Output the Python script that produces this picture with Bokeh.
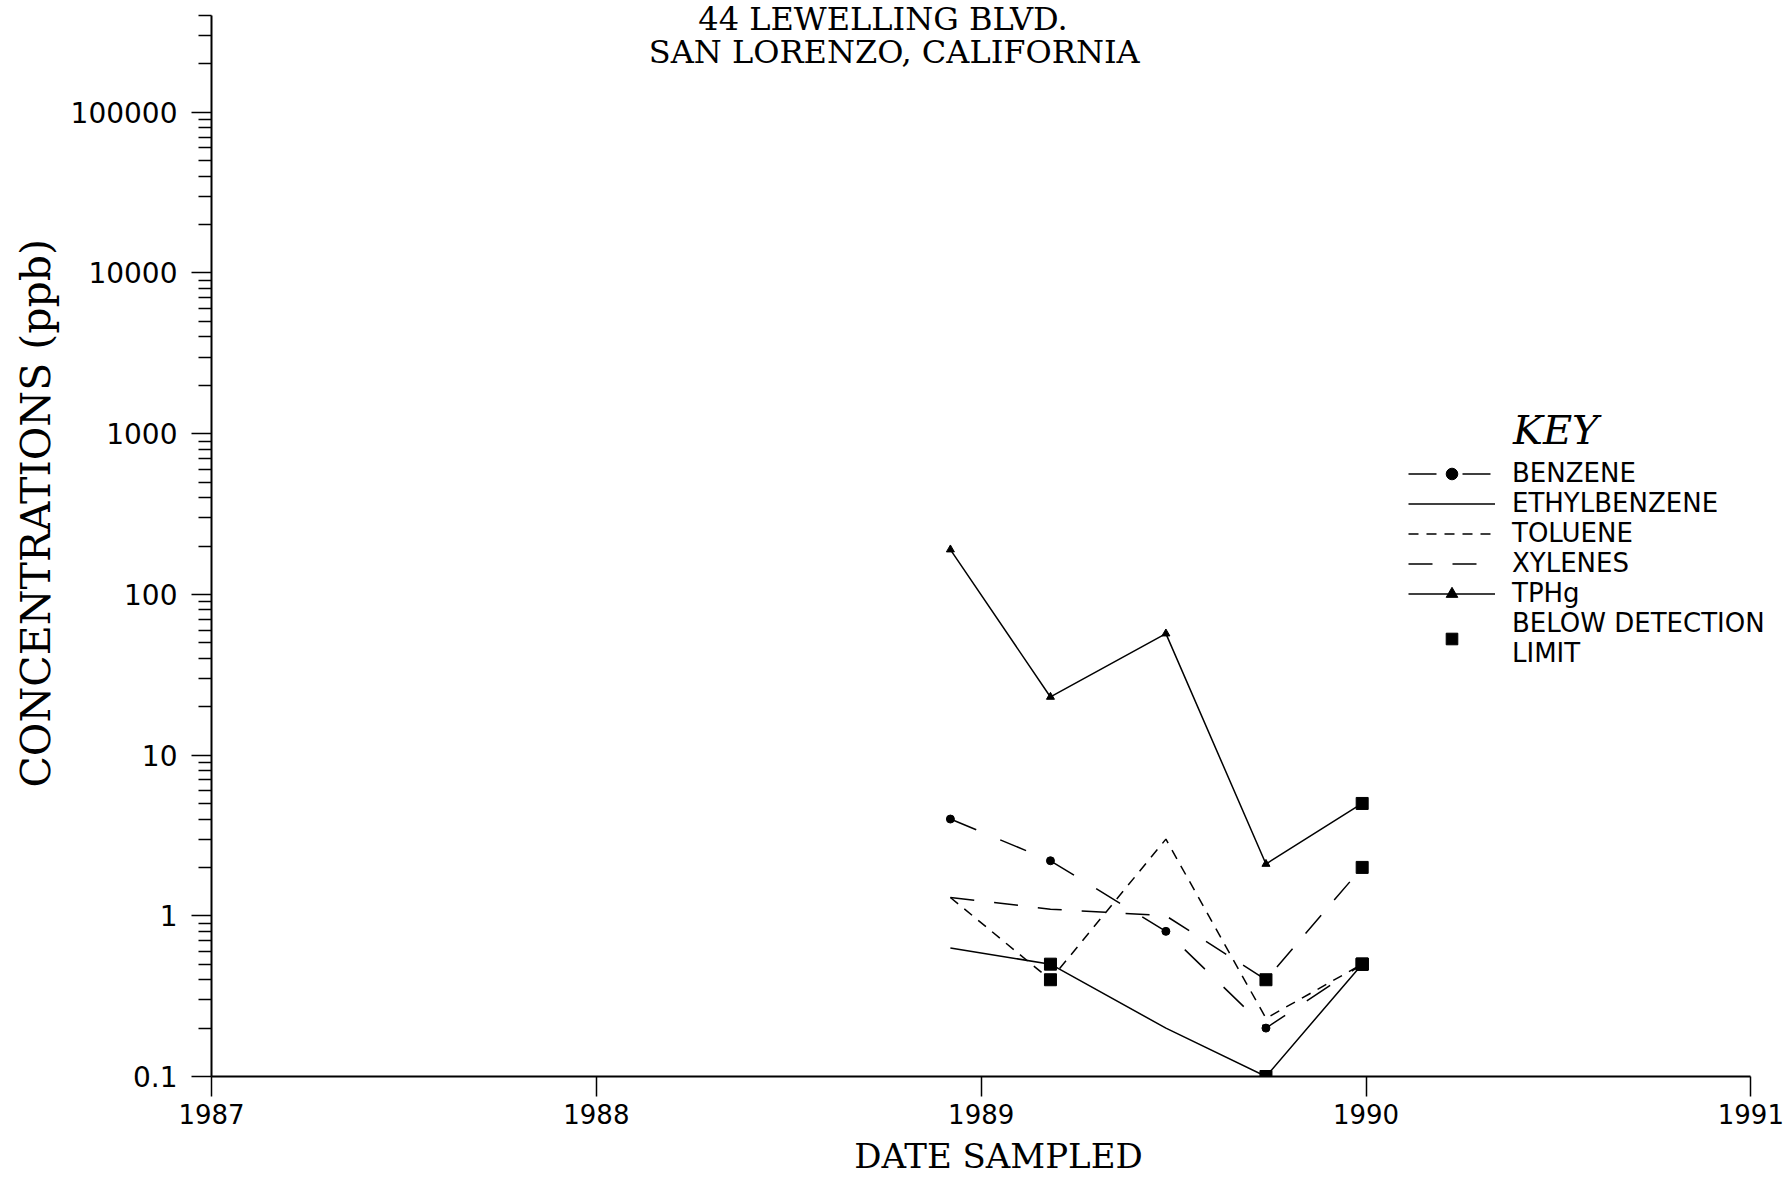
from bokeh.plotting import figure
from bokeh.models import (Range1d, FixedTicker, Label, Legend, LegendItem, LinearAxis, Title)
from bokeh.embed import file_html
from bokeh.resources import INLINE

# ---- data ----
dates = [1988.92, 1989.18, 1989.48, 1989.74, 1989.99]
benzene = [4.0, 2.2, 0.8, 0.2, 0.5]
ethylbenzene = [0.63, 0.5, 0.2, 0.1, 0.5]
toluene = [1.3, 0.4, 3.0, 0.23, 0.5]
xylenes = [1.3, 1.1, 1.0, 0.4, 2.0]
tphg = [190, 23, 57, 2.1, 5.0]

benzene_bdl = [False, False, False, False, True]
ethylbenzene_bdl = [False, True, False, True, True]
toluene_bdl = [False, True, False, False, True]
xylenes_bdl = [False, False, False, True, True]
tphg_bdl = [False, False, False, False, True]

year_ticks = [1987, 1988, 1989, 1990, 1991]
conc_ticks = [0.1, 1, 10, 100, 1000, 10000, 100000]
conc_labels = ["0.1", "1", "10", "100", "1000", "10000", "100000"]

title_lines = ["44 LEWELLING BLVD.", "SAN LORENZO, CALIFORNIA"]
x_title = "DATE SAMPLED"
y_title = "CONCENTRATIONS (ppb)"

serif = "DejaVu Serif"
sans = "DejaVu Sans"

# ---- figure ----
p = figure(width=1785, height=1179,
           x_range=Range1d(1987, 1991.09), y_range=Range1d(0.1, 496000),
           y_axis_type="log", output_backend="svg", toolbar_location=None,
           min_border_left=211, min_border_right=0, min_border_top=0, min_border_bottom=103)
p.xgrid.visible = False
p.ygrid.visible = False
p.outline_line_color = None
p.background_fill_color = "white"
p.border_fill_color = "white"

minor = [m * 10.0 ** e for e in range(-1, 6) for m in range(2, 10) if m * 10.0 ** e <= 400000]
p.yaxis.ticker = FixedTicker(ticks=conc_ticks, minor_ticks=minor)
p.yaxis.major_label_overrides = {t: l for t, l in zip(conc_ticks, conc_labels)}
p.yaxis.bounds = (0.1, 400000)
p.xaxis.ticker = FixedTicker(ticks=year_ticks)
p.xaxis.major_label_overrides = {t: str(t) for t in year_ticks}
p.xaxis.bounds = (1987, 1991)

for ax in (p.xaxis[0], p.yaxis[0]):
    ax.axis_line_width = 2
    ax.axis_line_color = "black"
    ax.major_tick_in = 0
    ax.major_tick_out = 20
    ax.major_tick_line_width = 1.5
    ax.major_tick_line_color = "black"
    ax.major_label_text_font = sans
    ax.major_label_text_color = "black"
p.xaxis.major_label_text_font_size = "26px"
p.yaxis.major_label_text_font_size = "28px"
p.yaxis.minor_tick_in = 0
p.yaxis.minor_tick_out = 13
p.yaxis.minor_tick_line_width = 1.5
p.yaxis.minor_tick_line_color = "black"
p.yaxis.major_label_standoff = 14
p.xaxis.minor_tick_line_color = None
p.xaxis.major_label_standoff = 7

# y title: a side title on the left, set along the axis from its lower end
p.add_layout(Title(text=y_title, align="left", offset=289, vertical_align="middle",
                   standoff=14, text_font=serif, text_font_size="41px",
                   text_font_style="normal", text_color="black"), "left")

# x title: carried by a tick-less axis below the main x axis
x_title_axis = LinearAxis(ticker=FixedTicker(ticks=[]), axis_label=x_title,
                          axis_line_color=None, major_tick_out=0, major_tick_in=0,
                          minor_tick_out=0, minor_tick_in=0, major_label_text_font_size="0px",
                          axis_label_text_font=serif, axis_label_text_font_size="34px",
                          axis_label_text_font_style="normal", axis_label_text_color="black",
                          axis_label_standoff=9)
p.add_layout(x_title_axis, "below")

# ---- series ----
lw = 1.5
r_benz = p.line(dates, benzene, line_color="black", line_width=lw, line_dash="28 26")
r_eth = p.line(dates, ethylbenzene, line_color="black", line_width=lw)
r_tol = p.line(dates, toluene, line_color="black", line_width=lw, line_dash="10 8")
r_xyl = p.line(dates, xylenes, line_color="black", line_width=lw, line_dash="24 20")
r_tph = p.line(dates, tphg, line_color="black", line_width=lw)

bx = [d for d, b in zip(dates, benzene_bdl) if not b]
by = [v for v, b in zip(benzene, benzene_bdl) if not b]
r_bdots = p.scatter(bx, by, marker="circle", size=8, color="black")
tx = [d for d, b in zip(dates, tphg_bdl) if not b]
ty = [v for v, b in zip(tphg, tphg_bdl) if not b]
r_tri = p.scatter(tx, ty, marker="triangle", size=8, color="black")

sqx, sqy = [], []
for vals, flags in ((benzene, benzene_bdl), (ethylbenzene, ethylbenzene_bdl),
                    (toluene, toluene_bdl), (xylenes, xylenes_bdl), (tphg, tphg_bdl)):
    for d, v, f in zip(dates, vals, flags):
        if f:
            sqx.append(d)
            sqy.append(v)
r_sq = p.scatter(sqx, sqy, marker="square", size=12, color="black")

legend = Legend(items=[
    LegendItem(label="BENZENE", renderers=[r_benz, r_bdots]),
    LegendItem(label="ETHYLBENZENE", renderers=[r_eth]),
    LegendItem(label="TOLUENE", renderers=[r_tol]),
    LegendItem(label="XYLENES", renderers=[r_xyl]),
    LegendItem(label="TPHg", renderers=[r_tph, r_tri]),
    LegendItem(label="BELOW DETECTION\nLIMIT", renderers=[r_sq]),
], location=(1197, 408), glyph_width=87, glyph_height=29, label_height=29,
   label_standoff=17, spacing=0, padding=0, margin=0,
   border_line_color=None, background_fill_alpha=0,
   label_text_font=sans, label_text_font_size="26px", label_text_color="black",
   label_text_line_height=1.0)
p.add_layout(legend)

# ---- texts inside the frame ----
p.add_layout(Label(x=1988.745, y=380000, text=title_lines[0], text_font=serif,
                   text_font_size="32px", text_align="center", text_baseline="alphabetic",
                   text_color="black"))
p.add_layout(Label(x=1988.774, y=238000, text=title_lines[1], text_font=serif,
                   text_font_size="32px", text_align="center", text_baseline="alphabetic",
                   text_color="black"))
p.add_layout(Label(x=1990.493, y=1047, text="KEY", text_font=serif,
                   text_font_style="italic", text_font_size="40px", text_align="center",
                   text_baseline="alphabetic", text_color="black"))

open("out.html", "w").write(file_html(p, INLINE))
